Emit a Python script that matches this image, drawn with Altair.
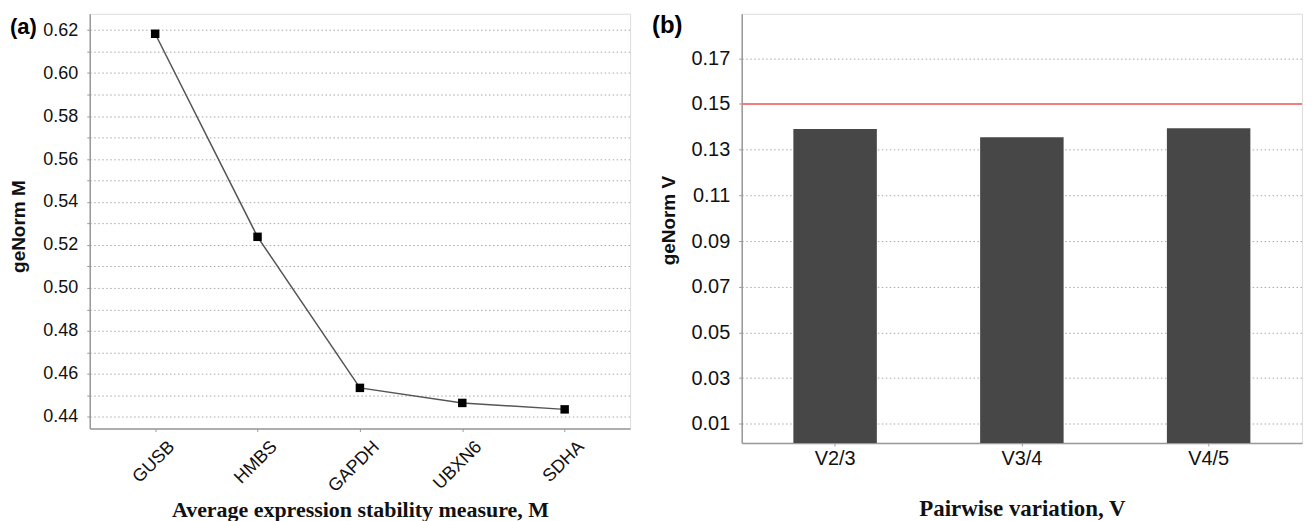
import altair as alt
import pandas as pd

# ---- data (a) ----
genes = ["GUSB", "HMBS", "GAPDH", "UBXN6", "SDHA"]
m_values = [0.6183, 0.5238, 0.4535, 0.4465, 0.4435]
m_ticks = [0.44, 0.45, 0.46, 0.47, 0.48, 0.49, 0.50, 0.51, 0.52, 0.53,
           0.54, 0.55, 0.56, 0.57, 0.58, 0.59, 0.60, 0.61, 0.62]

# ---- data (b) ----
pairs = ["V2/3", "V3/4", "V4/5"]
v_values = [0.1391, 0.1354, 0.1394]
threshold = [0.15]
v_ticks = [0.01, 0.02, 0.03, 0.04, 0.05, 0.06, 0.07, 0.08, 0.09,
           0.10, 0.11, 0.12, 0.13, 0.14, 0.15, 0.16, 0.17, 0.18]

df_a = pd.DataFrame({"gene": genes, "M": m_values})
df_b = pd.DataFrame({"pair": pairs, "V": v_values})
df_t = pd.DataFrame({"V": threshold})

SANS = "Liberation Sans"
SERIF = "Liberation Serif"
GRID = dict(grid=True, gridDash=[1.5, 2.5], gridColor="#a8a8a8", gridWidth=1)

# ---------- panel (a) ----------
ya = alt.Y(
    "M:Q",
    scale=alt.Scale(domain=[0.4346, 0.6276], nice=False, zero=False),
    axis=alt.Axis(
        values=m_ticks,
        labelExpr="round(datum.value*100) % 2 == 0 ? format(datum.value, '.2f') : ''",
        labelFontSize=18, labelFont=SANS, labelColor="#111",
        labelPadding=9, tickSize=3, tickColor="#999",
        domainColor="#999", domainWidth=1.5,
        title="geNorm M", titleFont=SANS, titleFontSize=19, titleFontWeight="bold",
        titleAngle=-90, titleX=-80, titleY=213, titleBaseline="top", titleAlign="center",
        titleColor="#111",
        **GRID,
    ),
)
xa = alt.X(
    "gene:N",
    sort=genes,
    scale=alt.Scale(type="point", padding=0.639),
    axis=alt.Axis(
        labelAngle=-45, labelAlign="right", labelBaseline="top",
        labelFontSize=18, labelFont=SANS, labelColor="#111",
        labelPadding=6, labelOffset=10, tickSize=3, tickColor="#999",
        domainColor="#999", domainWidth=1.5, grid=False,
        title="Average expression stability measure, M",
        titleFont=SERIF, titleFontSize=22, titleFontWeight="bold",
        titleY=88, titleBaseline="alphabetic", titleColor="#111",
    ),
)

base_a = alt.Chart(df_a).encode(x=xa, y=ya)
line_a = base_a.mark_line(color="#555555", strokeWidth=1.5)
pts_a = base_a.mark_point(shape="square", filled=True, size=72, color="#000000", opacity=1)
lab_a = alt.Chart(pd.DataFrame({"t": ["(a)"]})).mark_text(
    align="left", baseline="alphabetic", fontSize=22, fontWeight="bold", font=SANS, color="#000"
).encode(text="t:N", x=alt.value(-80), y=alt.value(20.5))

panel_a = alt.layer(line_a, pts_a, lab_a).properties(width=542, height=416)

# ---------- panel (b) ----------
yb = alt.Y(
    "V:Q",
    scale=alt.Scale(domain=[0.0016, 0.1895], nice=False, zero=False),
    axis=alt.Axis(
        values=v_ticks,
        labelExpr="round(datum.value*100) % 2 == 1 ? format(datum.value, '.2f') : ''",
        labelFontSize=20, labelFont=SANS, labelColor="#111",
        labelPadding=9, tickSize=3, tickColor="#999",
        domainColor="#999", domainWidth=1.5,
        title="geNorm V", titleFont=SANS, titleFontSize=19, titleFontWeight="bold",
        titleAngle=-90, titleX=-82, titleY=207, titleBaseline="top", titleAlign="center",
        titleColor="#111",
        **GRID,
    ),
)
xb = alt.X(
    "pair:N",
    sort=pairs,
    scale=alt.Scale(paddingInner=0.553, paddingOuter=0.2765),
    axis=alt.Axis(
        labelAngle=0, labelFontSize=20, labelFont=SANS, labelColor="#111",
        labelPadding=3, tickSize=3, tickColor="#999",
        domainColor="#999", domainWidth=1.5, grid=False,
        title="Pairwise variation, V",
        titleFont=SERIF, titleFontSize=23, titleFontWeight="bold",
        titleY=72.5, titleBaseline="alphabetic", titleColor="#111",
    ),
)

bars_b = alt.Chart(df_b).mark_bar(color="#474747", clip=True).encode(x=xb, y=yb)
rule_b = alt.Chart(df_t).mark_rule(color="#f47c7c", strokeWidth=2).encode(y=alt.Y("V:Q"))
lab_b = alt.Chart(pd.DataFrame({"t": ["(b)"]})).mark_text(
    align="left", baseline="alphabetic", fontSize=24, fontWeight="bold", font=SANS, color="#000"
).encode(text="t:N", x=alt.value(-90), y=alt.value(19.7))

panel_b = alt.layer(bars_b, rule_b, lab_b).properties(width=562, height=430.5)

chart = (
    alt.hconcat(panel_a, panel_b, spacing=20)
    .properties(padding={"left": 1, "top": 4, "right": 0, "bottom": 0})
    .configure_view(stroke="#aaaaaa", strokeWidth=1)
    .configure(background="white")
)

chart.save("out.html", embed_options={"renderer": "svg", "actions": False})
